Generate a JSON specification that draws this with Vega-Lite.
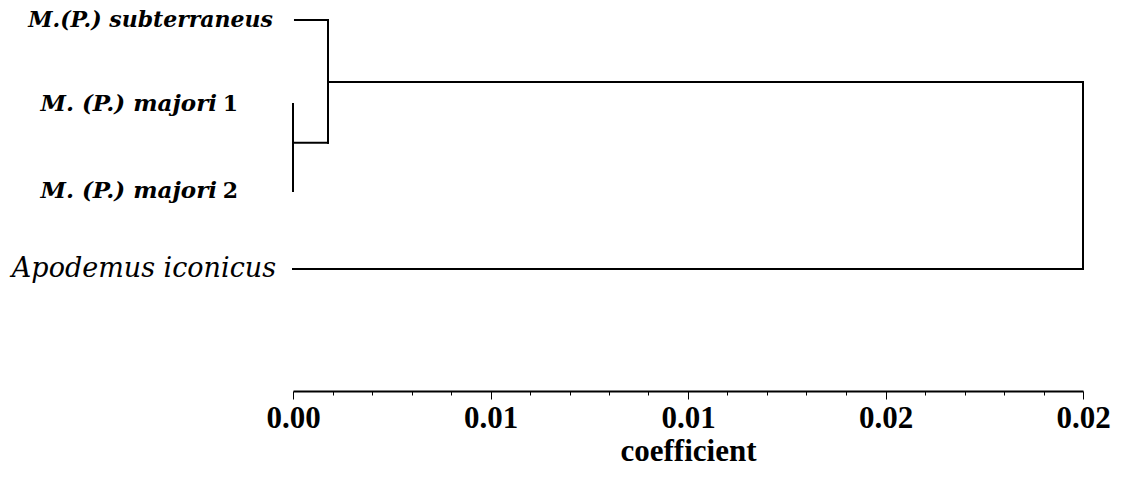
{
  "$schema": "https://vega.github.io/schema/vega-lite/v6.json",
  "width": 790,
  "height": 391,
  "autosize": {"type": "none"},
  "padding": {"left": 293, "top": 0, "right": 51, "bottom": 86},
  "background": "white",
  "config": {"view": {"stroke": null}},
  "datasets": {
    "segments": [
      {"x": 0.00005, "x2": 0.000886, "y": 1, "y2": 1},
      {"x": 0.000886, "x2": 0.000886, "y": 1, "y2": 2.48},
      {"x": 0, "x2": 0.000886, "y": 2.48, "y2": 2.48},
      {"x": 0, "x2": 0, "y": 2.012, "y2": 3.06},
      {"x": 0.000886, "x2": 0.02, "y": 1.747, "y2": 1.747},
      {"x": 0.02, "x2": 0.02, "y": 1.747, "y2": 4},
      {"x": 0, "x2": 0.02, "y": 4, "y2": 4}
    ],
    "leaves": [
      {"label": "M.(P.) subterraneus", "group": "sub", "num": "", "x": 0, "y": 1},
      {"label": "M. (P.) majori", "group": "maj", "num": "1", "x": 0, "y": 2.012},
      {"label": "M. (P.) majori", "group": "maj", "num": "2", "x": 0, "y": 3.06},
      {"label": "Apodemus iconicus", "group": "apo", "num": "", "x": 0, "y": 4}
    ]
  },
  "encoding": {
    "x": {
      "field": "x", "type": "quantitative",
      "scale": {"domain": [0, 0.02], "nice": false, "zero": false},
      "axis": {
        "title": "coefficient",
        "values": [0, 0.001, 0.002, 0.003, 0.004, 0.005, 0.006, 0.007, 0.008, 0.009, 0.01, 0.011, 0.012, 0.013, 0.014, 0.015, 0.016, 0.017, 0.018, 0.019, 0.02],
        "grid": false,
        "domainWidth": 2,
        "domainColor": "black",
        "tickColor": "black",
        "tickWidth": 1,
        "tickSize": {"condition": {"test": "round(datum.value*1000) % 5 == 0", "value": 8}, "value": 4},
        "labelExpr": "round(datum.value*1000) % 5 == 0 ? ['0.00','0.01','0.01','0.02','0.02'][round(datum.value*200)] : ''",
        "labelFont": "Liberation Serif",
        "labelFontSize": 31,
        "labelFontWeight": "bold",
        "labelColor": "black",
        "labelPadding": 4,
        "labelFlush": false,
        "labelOverlap": false,
        "titleFont": "Liberation Serif",
        "titleFontSize": 31,
        "titleFontWeight": "bold",
        "titleColor": "black",
        "titlePadding": 3
      }
    },
    "y": {
      "field": "y", "type": "quantitative",
      "scale": {"domain": [0.759, 5.47], "reverse": true, "nice": false, "zero": false},
      "axis": null
    }
  },
  "layer": [
    {
      "data": {"name": "segments"},
      "mark": {"type": "rule", "strokeWidth": 2, "color": "black", "strokeCap": "square"},
      "encoding": {
        "x2": {"field": "x2"},
        "y2": {"field": "y2"}
      }
    },
    {
      "data": {"name": "leaves"},
      "transform": [{"filter": "datum.group == 'sub'"}],
      "mark": {"type": "text", "align": "right", "baseline": "middle", "dx": -20, "font": "DejaVu Serif", "fontSize": 22, "fontStyle": "italic", "fontWeight": "bold", "color": "black"},
      "encoding": {"text": {"field": "label"}}
    },
    {
      "data": {"name": "leaves"},
      "transform": [{"filter": "datum.group == 'maj'"}],
      "mark": {"type": "text", "align": "right", "baseline": "middle", "dx": -76, "font": "DejaVu Serif", "fontSize": 23, "fontStyle": "italic", "fontWeight": "bold", "color": "black"},
      "encoding": {"text": {"field": "label"}}
    },
    {
      "data": {"name": "leaves"},
      "transform": [{"filter": "datum.group == 'maj'"}],
      "mark": {"type": "text", "align": "right", "baseline": "middle", "dx": -55, "font": "DejaVu Serif", "fontSize": 22, "fontWeight": "bold", "color": "black"},
      "encoding": {"text": {"field": "num"}}
    },
    {
      "data": {"name": "leaves"},
      "transform": [{"filter": "datum.group == 'apo'"}],
      "mark": {"type": "text", "align": "right", "baseline": "middle", "dx": -17, "font": "DejaVu Serif", "fontSize": 27, "fontStyle": "italic", "fontWeight": "normal", "color": "black"},
      "encoding": {"text": {"field": "label"}}
    }
  ]
}
